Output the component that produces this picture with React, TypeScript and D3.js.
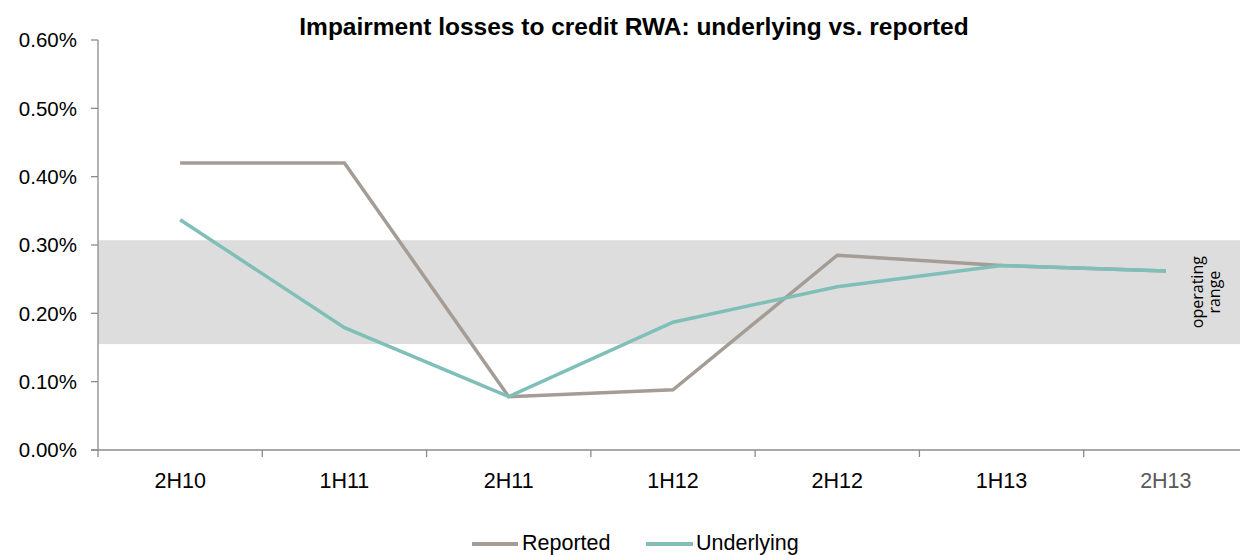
import React from "react";
import * as d3 from "d3";

const categories = ["2H10", "1H11", "2H11", "1H12", "2H12", "1H13", "2H13"];
const reported = [0.42, 0.42, 0.078, 0.088, 0.285, 0.27, 0.262];
const underlying = [0.337, 0.179, 0.078, 0.187, 0.239, 0.27, 0.262];
const yTicks = [0, 0.1, 0.2, 0.3, 0.4, 0.5, 0.6];
const bandRange = [0.155, 0.307];

const W = 1240, H = 555;
const left = 98, top = 40, bottom = 450;
const plotRight = 1248;

export default function App() {
  const x = d3.scaleBand<string>().domain(categories).range([left, plotRight]).padding(0);
  const y = d3.scaleLinear().domain([0, 0.6]).range([bottom, top]);
  const cx = (c: string) => (x(c) as number) + x.bandwidth() / 2;
  const line = d3.line<number>().x((_, i) => cx(categories[i])).y((d) => y(d));
  const axisColor = "#8c8c8c";
  const font = "Liberation Sans, Arial, sans-serif";
  return (
    <svg width={W} height={H} style={{ position: "absolute", left: 0, top: 0 }}>
      <rect x={0} y={0} width={W} height={H} fill="#fff" />
      <rect x={left} y={y(bandRange[1])} width={W - left} height={y(bandRange[0]) - y(bandRange[1])} fill="#dddddd" />
      <text x={634} y={35} textAnchor="middle" fontFamily={font} fontWeight="bold" fontSize={24.5} fill="#000">
        Impairment losses to credit RWA: underlying vs. reported
      </text>
      {/* y axis */}
      <line x1={left} x2={left} y1={top} y2={bottom} stroke={axisColor} strokeWidth={1.3} />
      {yTicks.map((t) => (
        <g key={t}>
          <line x1={left - 7} x2={left} y1={y(t)} y2={y(t)} stroke={axisColor} strokeWidth={1.3} />
          <text x={77} y={y(t) + 7.3} textAnchor="end" fontFamily={font} fontSize={20.5} fill="#000">
            {(t * 1).toFixed(2)}%
          </text>
        </g>
      ))}
      {/* x axis */}
      <line x1={left - 7} x2={W} y1={bottom} y2={bottom} stroke={axisColor} strokeWidth={1.3} />
      {categories.map((c, i) => (
        <g key={c}>
          <line x1={x(c) as number} x2={x(c) as number} y1={bottom} y2={bottom + 7} stroke={axisColor} strokeWidth={1.3} />
          <text x={cx(c)} y={488} textAnchor="middle" fontFamily={font} fontSize={21.5} fill={i === categories.length - 1 ? "#595959" : "#000"}>
            {c}
          </text>
        </g>
      ))}
      <path d={line(reported) || ""} fill="none" stroke="#a59d95" strokeWidth={3.5} />
      <path d={line(underlying) || ""} fill="none" stroke="#7fbfb8" strokeWidth={3.5} />
      <text transform={`translate(1203,${(y(bandRange[0]) + y(bandRange[1])) / 2}) rotate(-90)`} textAnchor="middle" fontFamily="Open Sans, sans-serif" fontSize={16} fill="#000">
        <tspan x={0} dy={0}>operating</tspan>
        <tspan x={0} dy={17}>range</tspan>
      </text>
      {/* legend */}
      <line x1={472} x2={518} y1={544} y2={544} stroke="#a59d95" strokeWidth={4} />
      <text x={522} y={550} fontFamily={font} fontSize={21.5} fill="#000">Reported</text>
      <line x1={646} x2={693} y1={544} y2={544} stroke="#7fbfb8" strokeWidth={4} />
      <text x={696} y={550} fontFamily={font} fontSize={21.5} fill="#000">Underlying</text>
    </svg>
  );
}
